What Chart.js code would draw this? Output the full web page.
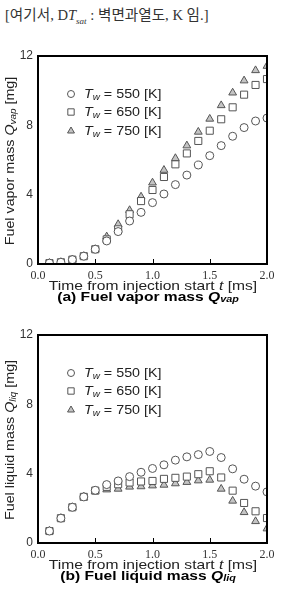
<!DOCTYPE html>
<html>
<head>
<meta charset="utf-8">
<script src="https://cdn.jsdelivr.net/npm/chart.js@4/dist/chart.umd.min.js"></script>
<style>
  body { margin: 0; background: #fff; width: 283px; height: 602px; position: relative; overflow: hidden; }
  #note { position: absolute; left: 5px; top: 3px; font: 14.6px "Liberation Serif", "Noto Sans CJK KR", serif; color: #333; white-space: nowrap; }
  #note sub { font-size: 9px; font-style: italic; }
  .box { position: absolute; left: 0; width: 283px; height: 265px; }
</style>
</head>
<body>
<div id="note">[여기서, D<i>T</i><sub>sat</sub> : 벽면과열도, K 임.]</div>
<div class="box" style="top:40px"><canvas id="vap"></canvas></div>
<div class="box" style="top:319px"><canvas id="liq"></canvas></div>
<script>
const times = [0.1, 0.2, 0.3, 0.4, 0.5, 0.6, 0.7, 0.8, 0.9, 1.0,
               1.1, 1.2, 1.3, 1.4, 1.5, 1.6, 1.7, 1.8, 1.9, 2.0];
const wallTemps = ['550', '650', '750'];
const yTicks = [0, 4, 8, 12];
const xTicks = [0.0, 0.5, 1.0, 1.5, 2.0];

// (a) vapor mass [mg]
const vap550 = [0.05, 0.1, 0.25, 0.45, 0.85, 1.33, 1.87, 2.48, 2.98, 3.54,
                4.04, 4.58, 5.13, 5.71, 6.25, 6.83, 7.37, 7.87, 8.25, 8.42];
const vap650 = [0.05, 0.1, 0.25, 0.45, 0.85, 1.42, 2.0, 2.87, 3.63, 4.27,
                5.02, 5.75, 6.38, 7.1, 7.69, 8.35, 9.04, 9.77, 10.33, 10.67];
const vap750 = [0.05, 0.1, 0.25, 0.45, 0.85, 1.58, 2.29, 3.1, 3.88, 4.69,
                5.42, 6.1, 6.83, 7.62, 8.37, 9.15, 9.88, 10.58, 11.17, 11.42];

// (b) liquid mass [mg]
const liq550 = [0.69, 1.43, 2.06, 2.66, 3.04, 3.37, 3.58, 3.83, 4.08, 4.3,
                4.51, 4.78, 4.97, 5.1, 5.28, 4.93, 4.28, 3.68, 3.28, 2.95];
const liq650 = [0.69, 1.43, 2.06, 2.66, 3.02, 3.24, 3.39, 3.49, 3.55, 3.58,
                3.7, 3.76, 3.83, 3.97, 4.14, 3.78, 3.02, 2.31, 1.83, 1.44];
const liq750 = [0.69, 1.43, 2.06, 2.66, 3.0, 3.08, 3.12, 3.24, 3.26, 3.31,
                3.35, 3.43, 3.51, 3.6, 3.64, 3.12, 2.43, 1.77, 1.25, 0.83];

const markers = [
  { style: 'circle', radius: 4, fill: '#fff' },
  { style: 'rect', radius: 5, fill: '#fff' },
  { style: 'triangle', radius: 4.5, fill: '#c4c4c4' }
];
const SANS = '"Liberation Sans", Arial, sans-serif';

// text runs (for italics / subscripts), the scanned original is a bit wide so sx stretches it
function runsWidth(ctx, runs) {
  let w = 0;
  runs.forEach(r => { ctx.font = r.f; w += ctx.measureText(r.t).width; });
  return w;
}
function drawRuns(ctx, x, y, runs, sx) {
  ctx.save();
  ctx.translate(x, y);
  ctx.scale(sx || 1, 1);
  let cx = 0;
  runs.forEach(r => {
    ctx.font = r.f;
    ctx.fillText(r.t, cx, r.dy || 0);
    cx += ctx.measureText(r.t).width;
  });
  ctx.restore();
}

function makeChart(id, series, sub, caption) {
  const decor = {
    id: 'decor',
    afterDraw(chart) {
      const ctx = chart.ctx;
      const a = chart.chartArea;
      const xs = chart.scales.x;
      ctx.save();
      // frame and inner ticks
      ctx.strokeStyle = '#000';
      ctx.lineWidth = 2;
      ctx.strokeRect(a.left, a.top, a.right - a.left, a.bottom - a.top);
      ctx.lineWidth = 1;
      ctx.beginPath();
      [0.5, 1.0, 1.5].forEach(v => {
        const px = Math.round(xs.getPixelForValue(v)) + 0.5;
        ctx.moveTo(px, a.bottom);
        ctx.lineTo(px, a.bottom - 5);
      });
      ctx.stroke();

      ctx.textBaseline = 'middle';
      // legend
      const rows = [54, 72, 91];
      wallTemps.forEach((t, i) => {
        const m = markers[i];
        ctx.fillStyle = m.fill;
        ctx.strokeStyle = '#555';
        ctx.lineWidth = 1;
        Chart.helpers.drawPoint(ctx, { pointStyle: m.style, radius: m.radius - 0.5, borderWidth: 1 }, 71, rows[i]);
        ctx.fillStyle = '#222';
        drawRuns(ctx, 84, rows[i], [
          { t: 'T', f: 'italic 13px ' + SANS },
          { t: 'w', f: 'italic 9px ' + SANS, dy: 3 },
          { t: ' = ' + t + ' [K]', f: '13px ' + SANS }
        ], 1.1);
      });

      // y title
      const yRuns = [
        { t: sub.label + ' ', f: '13px ' + SANS },
        { t: 'Q', f: 'italic 13px ' + SANS },
        { t: sub.idx, f: 'italic 9px ' + SANS, dy: 3 },
        { t: ' [mg]', f: '13px ' + SANS }
      ];
      ctx.save();
      ctx.translate(10, 121);
      ctx.rotate(-Math.PI / 2);
      drawRuns(ctx, -runsWidth(ctx, yRuns) * 1.1 / 2, 0, yRuns, 1.1);
      ctx.restore();

      // x title
      const xRuns = [
        { t: 'Time from injection start ', f: '13px ' + SANS },
        { t: 't', f: 'italic 13px ' + SANS },
        { t: ' [ms]', f: '13px ' + SANS }
      ];
      drawRuns(ctx, 153 - runsWidth(ctx, xRuns) * 1.2 / 2, 246, xRuns, 1.2);

      // caption
      const cRuns = [
        { t: caption + ' ', f: 'bold 13px ' + SANS },
        { t: 'Q', f: 'italic bold 13px ' + SANS },
        { t: sub.idx, f: 'italic bold 9px ' + SANS, dy: 3 }
      ];
      ctx.fillStyle = '#000';
      drawRuns(ctx, 148 - runsWidth(ctx, cRuns) * 1.2 / 2, 257, cRuns, 1.2);
      ctx.restore();
    }
  };

  return new Chart(document.getElementById(id), {
    type: 'scatter',
    data: {
      datasets: series.map((vals, i) => ({
        label: 'Tw = ' + wallTemps[i] + ' [K]',
        data: vals.map((v, j) => ({ x: times[j], y: v })),
        pointStyle: markers[i].style,
        pointRadius: markers[i].radius,
        pointBackgroundColor: markers[i].fill,
        pointBorderColor: '#555',
        pointBorderWidth: 1
      }))
    },
    options: {
      animation: false,
      responsive: false,
      layout: { padding: { left: 0, right: 16, top: 16, bottom: 0 } },
      plugins: { legend: { display: false }, tooltip: { enabled: false } },
      scales: {
        x: {
          type: 'linear', min: 0, max: 2,
          grid: { display: false, drawTicks: false }, border: { display: false },
          afterBuildTicks: s => { s.ticks = xTicks.map(v => ({ value: v })); },
          afterFit: s => { s.height = 41; },
          ticks: {
            padding: 5, color: '#333', maxRotation: 0,
            font: { family: '"Liberation Serif", serif', size: 12 },
            callback: v => v.toFixed(1)
          }
        },
        y: {
          min: 0, max: 12,
          grid: { display: false, drawTicks: false }, border: { display: false },
          afterBuildTicks: s => { s.ticks = yTicks.map(v => ({ value: v })); },
          afterFit: s => { s.width = 38; },
          ticks: { padding: 5, color: '#333', font: { family: SANS, size: 12 } }
        }
      }
    },
    plugins: [decor]
  });
}

['vap', 'liq'].forEach(id => {
  const c = document.getElementById(id);
  c.width = 283; c.height = 265;
});
makeChart('vap', [vap550, vap650, vap750], { label: 'Fuel vapor mass', idx: 'vap' }, '(a) Fuel vapor mass');
makeChart('liq', [liq550, liq650, liq750], { label: 'Fuel liquid mass', idx: 'liq' }, '(b) Fuel liquid mass');
</script>
</body>
</html>
